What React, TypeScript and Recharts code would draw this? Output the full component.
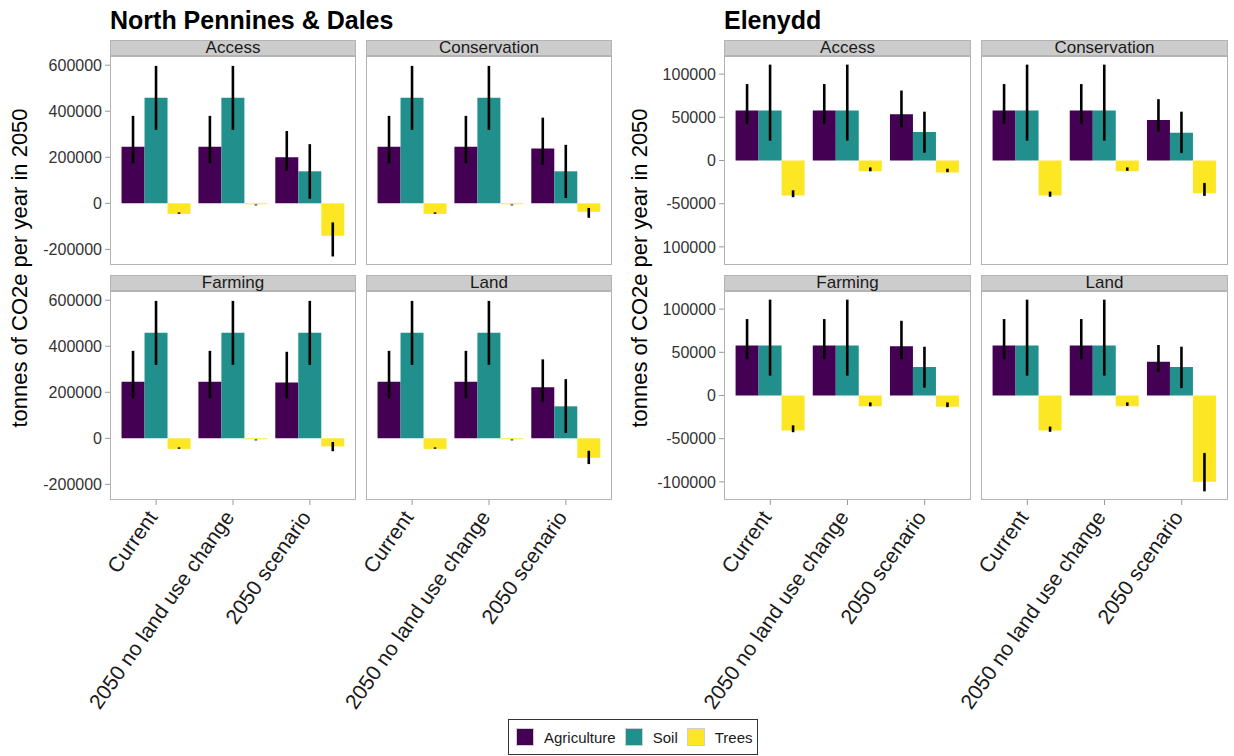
import React from 'react';
import { BarChart, Bar, XAxis, YAxis, ErrorBar } from 'recharts';

const FONT = '"Liberation Sans", Arial, Helvetica, sans-serif';

const scenarios = ['Current', '2050 no land use change', '2050 scenario'];
const facets = ['Access', 'Conservation', 'Farming', 'Land'];
const sources = ['Agriculture', 'Soil', 'Trees'];
const sourceColors = ['#440154', '#21908C', '#FDE725'];

// [mean, lower, upper] for each facet (Access, Conservation, Farming, Land) x scenario
const npdAgriculture = [
  [246000, 174000, 380000], [246000, 174000, 380000], [200000, 142000, 314000],
  [246000, 174000, 380000], [246000, 174000, 380000], [238000, 167000, 372000],
  [246000, 174000, 380000], [246000, 174000, 380000], [243000, 174000, 376000],
  [246000, 174000, 380000], [246000, 174000, 380000], [222000, 157000, 343000],
];
const npdSoil = [
  [459000, 319000, 597000], [459000, 319000, 597000], [139000, 20000, 257000],
  [459000, 319000, 597000], [459000, 319000, 597000], [139000, 23000, 254000],
  [459000, 319000, 597000], [459000, 319000, 597000], [459000, 319000, 597000],
  [459000, 319000, 597000], [459000, 319000, 597000], [139000, 23000, 257000],
];
const npdTrees = [
  [-46000, -45500, -39500], [-4000, -9000, -5000], [-141000, -231000, -83000],
  [-46000, -45500, -39500], [-4000, -9000, -5000], [-37000, -63000, -20000],
  [-46000, -45500, -39500], [-4000, -9000, -5000], [-35000, -56000, -16000],
  [-46000, -45500, -39500], [-4000, -9000, -5000], [-85000, -112000, -54000],
];

const elenAgriculture = [
  [58000, 42000, 88500], [58000, 42000, 88500], [53500, 38500, 81000],
  [58000, 42000, 88500], [58000, 42000, 88500], [47000, 33500, 71000],
  [58000, 42000, 88500], [58000, 42000, 88500], [57000, 42000, 86500],
  [58000, 42000, 88500], [58000, 42000, 88500], [39000, 27500, 58500],
];
const elenSoil = [
  [58000, 23000, 111000], [58000, 23000, 111000], [33000, 9000, 56500],
  [58000, 23000, 111000], [58000, 23000, 111000], [32000, 8500, 56500],
  [58000, 23000, 111000], [58000, 23000, 111000], [33000, 9000, 56500],
  [58000, 23000, 111000], [58000, 23000, 111000], [33000, 8500, 56500],
];
const elenTrees = [
  [-40500, -42500, -34500], [-12500, -12500, -8000], [-14000, -13500, -9500],
  [-40500, -42000, -36000], [-12500, -12000, -8000], [-38000, -41000, -26000],
  [-40500, -42500, -34500], [-12500, -12500, -8000], [-13000, -13500, -8000],
  [-40500, -42000, -36000], [-12500, -12000, -8000], [-100000, -111000, -66500],
];

const npdTicks = [-200000, 0, 200000, 400000, 600000];
const elenTicks = [-100000, -50000, 0, 50000, 100000];

const regions = [
  {
    title: 'North Pennines & Dales',
    series: [npdAgriculture, npdSoil, npdTrees],
    domain: [-268000, 640000],
    ticks: npdTicks,
    cols: [110, 366],
    panelW: 246,
    labelX: 20,
  },
  {
    title: 'Elenydd',
    series: [elenAgriculture, elenSoil, elenTrees],
    domain: [-121000, 121000],
    ticks: elenTicks,
    cols: [724, 981],
    panelW: 247,
    labelX: 640,
  },
];

const stripTops = [40, 275];
const STRIP_H = 16;
const PANEL_H = 209;
const LEFT_SPACE = 150;
const X_AXIS_H = 215;

function buildRows(series: number[][][], facetIndex: number) {
  return scenarios.map((scenario, s) => {
    const row: Record<string, any> = { scenario };
    sources.forEach((src, k) => {
      const [mean, lower, upper] = series[k][facetIndex * 3 + s];
      row[src] = mean;
      row[src + 'Err'] = [mean - lower, upper - mean];
    });
    return row;
  });
}

const ScenarioTick = ({ x, y, payload }: any) => {
  const ax = x - 4;
  const ay = y + 6;
  return (
    <text
      x={ax}
      y={ay}
      transform={`rotate(-55, ${ax}, ${ay})`}
      textAnchor="end"
      dominantBaseline="central"
      fontSize={21}
      fill="#1a1a1a"
      fontFamily={FONT}
    >
      {payload.value}
    </text>
  );
};

function Panel({ region, facetIndex }: { region: any; facetIndex: number }) {
  const col = facetIndex % 2;
  const row = Math.floor(facetIndex / 2);
  const panelX = region.cols[col];
  const stripTop = stripTops[row];
  const panelTop = stripTop + STRIP_H;
  const showY = col === 0;
  const showX = row === 1;
  const data = buildRows(region.series, facetIndex);
  const pad = region.panelW / 32;
  const chartH = PANEL_H + (showX ? X_AXIS_H : 0);
  const yFormatter = (v: number) =>
    region.title === 'Elenydd' && row === 0 && v === -100000 ? '100000' : String(v);

  return (
    <>
      <div style={{ position: 'absolute', left: panelX - LEFT_SPACE, top: panelTop }}>
        <BarChart
          width={LEFT_SPACE + region.panelW + 10}
          height={chartH}
          data={data}
          margin={{ top: 0, right: 10, bottom: 0, left: showY ? LEFT_SPACE - 80 : LEFT_SPACE }}
          barCategoryGap="5%"
          barGap={0}
        >
          <XAxis
            dataKey="scenario"
            hide={!showX}
            height={X_AXIS_H}
            padding={{ left: pad, right: pad }}
            axisLine={false}
            tickSize={5}
            tickMargin={2}
            tickLine={{ stroke: '#9a9a9a' }}
            tick={<ScenarioTick />}
            interval={0}
          />
          <YAxis
            type="number"
            hide={!showY}
            width={80}
            domain={region.domain}
            ticks={region.ticks}
            allowDataOverflow
            axisLine={false}
            tickSize={5}
            tickMargin={3}
            tickLine={{ stroke: '#9a9a9a' }}
            tick={{ fontSize: 16, fill: '#333', fontFamily: FONT }}
            tickFormatter={yFormatter}
          />
          {sources.map((src, k) => (
            <Bar key={src} dataKey={src} fill={sourceColors[k]} isAnimationActive={false}>
              <ErrorBar
                dataKey={src + 'Err'}
                width={0}
                strokeWidth={2.6}
                stroke="#000"
                direction="y"
                isAnimationActive={false}
              />
            </Bar>
          ))}
        </BarChart>
      </div>
      <div
        style={{
          position: 'absolute',
          left: panelX,
          top: panelTop,
          width: region.panelW,
          height: PANEL_H,
          border: '1px solid #b3b3b3',
          boxSizing: 'border-box',
          pointerEvents: 'none',
        }}
      />
      <div
        style={{
          position: 'absolute',
          left: panelX,
          top: stripTop,
          width: region.panelW,
          height: STRIP_H,
          background: '#cccccc',
          border: '1px solid #b3b3b3',
          boxSizing: 'border-box',
          textAlign: 'center',
          fontSize: 17,
          lineHeight: '14px',
          color: '#1a1a1a',
          fontFamily: FONT,
          whiteSpace: 'nowrap',
        }}
      >
        {facets[facetIndex]}
      </div>
    </>
  );
}

export default function App() {
  return (
    <div
      style={{
        position: 'absolute',
        left: 0,
        top: 0,
        width: 1234,
        height: 756,
        background: '#fff',
        fontFamily: FONT,
        overflow: 'hidden',
      }}
    >
      {regions.map((region) => (
        <React.Fragment key={region.title}>
          {facets.map((f, i) => (
            <Panel key={f} region={region} facetIndex={i} />
          ))}
          <div
            style={{
              position: 'absolute',
              left: region.cols[0],
              top: 8,
              fontSize: 25,
              lineHeight: '25px',
              fontWeight: 'bold',
              color: '#000',
              whiteSpace: 'nowrap',
            }}
          >
            {region.title}
          </div>
          <div
            style={{
              position: 'absolute',
              left: region.labelX - 200,
              top: 268 - 12,
              width: 400,
              height: 24,
              lineHeight: '24px',
              textAlign: 'center',
              fontSize: 22,
              color: '#000',
              transform: 'rotate(-90deg)',
              whiteSpace: 'nowrap',
            }}
          >
            tonnes of CO2e per year in 2050
          </div>
        </React.Fragment>
      ))}
      <div
        style={{
          position: 'absolute',
          left: 508,
          top: 719,
          width: 250,
          height: 36,
          border: '1px solid #333',
          boxSizing: 'border-box',
          display: 'flex',
          alignItems: 'center',
          paddingLeft: 7,
          fontSize: 15,
          color: '#1a1a1a',
        }}
      >
        {sources.map((src, k) => (
          <div key={src} style={{ display: 'flex', alignItems: 'center', marginRight: 9 }}>
            <div
              style={{
                width: 18,
                height: 18,
                boxSizing: 'border-box',
                background: sourceColors[k],
                border: '1px solid #cfcfcf',
                marginRight: 10,
              }}
            />
            <span>{src}</span>
          </div>
        ))}
      </div>
    </div>
  );
}
